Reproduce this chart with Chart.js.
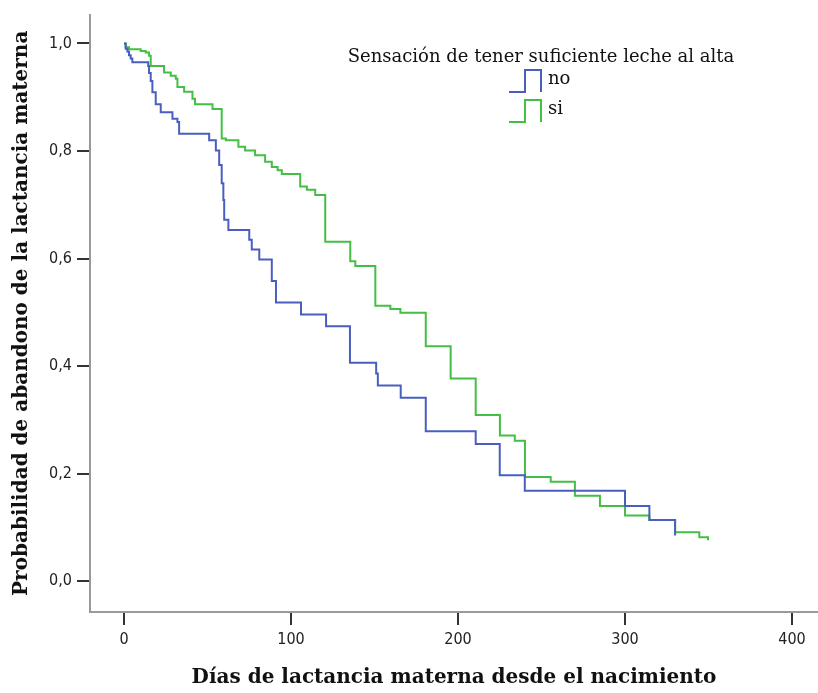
<!DOCTYPE html>
<html>
<head>
<meta charset="utf-8">
<script src="https://cdn.jsdelivr.net/npm/chart.js@4/dist/chart.umd.min.js"></script>
<style>
  html, body { margin: 0; padding: 0; background: #fff; }
</style>
</head>
<body>
<canvas id="KmChart" width="818" height="693"></canvas>
<script>
//Data//
const seriesNames = ["no", "si"];
const legendTitle = "Sensación de tener suficiente leche al alta";
const xTitle = "Días de lactancia materna desde el nacimiento";
const yTitle = "Probabilidad de abandono de la lactancia materna";
const xTicks = [0, 100, 200, 300, 400];
const yTicks = [0, 0.2, 0.4, 0.6, 0.8, 1.0];

const daysNo = [0, 1, 2, 3, 4, 5, 14.5, 15, 16, 17, 19, 22, 29, 32, 33, 51, 55, 57, 58.5, 59.5,
  60, 62.5, 75, 76.5, 81, 88.5, 91, 106, 121, 135.3, 151, 152, 165.7, 180.7, 210.6, 225, 240, 300, 314.6, 330];
const survNo = [1.0, 0.99, 0.985, 0.978, 0.972, 0.965, 0.958, 0.945, 0.93, 0.909, 0.887, 0.872, 0.86, 0.854, 0.832, 0.82, 0.801, 0.774, 0.74, 0.709,
  0.672, 0.653, 0.635, 0.617, 0.598, 0.558, 0.518, 0.496, 0.474, 0.406, 0.386, 0.364, 0.341, 0.279, 0.255, 0.197, 0.168, 0.14, 0.114, 0.085];

const daysSi = [0, 1, 3, 10, 13, 15, 16, 24, 28, 31, 32, 36, 41, 42.5, 53, 58.5, 61, 68.5, 72.5, 78.5,
  84.5, 88.5, 92, 94.5, 105.5, 109.5, 114.5, 120.5, 135.5, 138.5, 150.5, 159.5, 165.5, 180.7, 195.6, 210.6, 225.1, 234, 240.1, 255.5,
  270, 285, 300, 314.6, 330, 344.5, 349.7];
const survSi = [1.0, 0.993, 0.989, 0.986, 0.983, 0.977, 0.958, 0.946, 0.94, 0.934, 0.919, 0.91, 0.897, 0.887, 0.878, 0.823, 0.82, 0.808, 0.801, 0.792,
  0.78, 0.77, 0.764, 0.757, 0.734, 0.728, 0.718, 0.631, 0.595, 0.586, 0.512, 0.506, 0.499, 0.437, 0.377, 0.309, 0.271, 0.261, 0.194, 0.185,
  0.159, 0.14, 0.122, 0.114, 0.091, 0.082, 0.076];

const colorNo = "#4a5ec0";
const colorSi = "#44be44";

function toPoints(days, surv) {
  return days.map((d, i) => ({ x: d, y: surv[i] }));
}

//Legend drawn inside the plot//
const KmLegend = {
  id: "kmLegend",
  afterDraw(chart) {
    const ctx = chart.ctx;
    ctx.save();
    ctx.fillStyle = "#111";
    ctx.font = '18px "DejaVu Serif"';
    ctx.textAlign = "center";
    ctx.textBaseline = "middle";
    ctx.fillText(legendTitle, 541, 57);
    chart.data.datasets.forEach((ds, i) => {
      const base = 92 + i * 30;
      ctx.strokeStyle = ds.borderColor;
      ctx.lineWidth = 2;
      ctx.beginPath();
      ctx.moveTo(509, base);
      ctx.lineTo(525, base);
      ctx.lineTo(525, base - 22);
      ctx.lineTo(541, base - 22);
      ctx.lineTo(541, base);
      ctx.stroke();
      ctx.textAlign = "left";
      ctx.fillText(ds.label, 548, base - 13);
    });
    ctx.restore();
  },
};

const tickFont = { family: "DejaVu Sans Condensed", size: 16 };
const titleFont = { family: "DejaVu Serif", size: 20, weight: "bold" };

new Chart(document.getElementById("KmChart"), {
  type: "line",
  data: {
    datasets: [
      {
        label: seriesNames[0],
        data: toPoints(daysNo, survNo),
        borderColor: colorNo,
        borderWidth: 2,
        pointRadius: 0,
        stepped: true,
        fill: false,
      },
      {
        label: seriesNames[1],
        data: toPoints(daysSi, survSi),
        borderColor: colorSi,
        borderWidth: 2,
        pointRadius: 0,
        stepped: true,
        fill: false,
      },
    ],
  },
  options: {
    responsive: false,
    animation: false,
    layout: { padding: { top: 10, right: 0, bottom: 0, left: 0 } },
    plugins: {
      legend: { display: false },
      tooltip: { enabled: false },
    },
    scales: {
      x: {
        type: "linear",
        min: -20.36,
        max: 415.57,
        afterBuildTicks: (scale) => {
          scale.ticks = xTicks.map((v) => ({ value: v }));
        },
        afterFit: (scale) => {
          scale.height = 81;
        },
        ticks: { font: tickFont, color: "#222", padding: 5, maxRotation: 0 },
        grid: { drawOnChartArea: false, tickLength: 13, tickColor: "#333", lineWidth: 2 },
        border: { color: "#9a9a9a", width: 2 },
        title: { display: true, text: xTitle, font: titleFont, color: "#111", padding: { top: 0, bottom: 3 } },
      },
      y: {
        type: "linear",
        min: -0.0572,
        max: 1.0535,
        afterBuildTicks: (scale) => {
          scale.ticks = yTicks.map((v) => ({ value: v }));
        },
        afterFit: (scale) => {
          scale.width = 90;
        },
        ticks: {
          font: tickFont,
          color: "#222",
          padding: 5,
          callback: (v) => v.toFixed(1).replace(".", ","),
        },
        grid: { drawOnChartArea: false, tickLength: 13, tickColor: "#333", lineWidth: 2 },
        border: { color: "#9a9a9a", width: 2 },
        title: { display: true, text: yTitle, font: titleFont, color: "#111", padding: { top: 10, bottom: 0 } },
      },
    },
  },
  plugins: [KmLegend],
});
</script>
</body>
</html>
